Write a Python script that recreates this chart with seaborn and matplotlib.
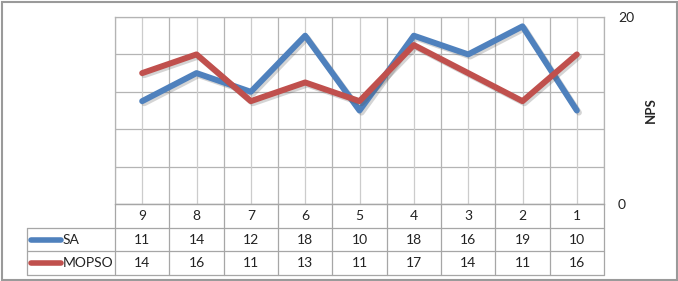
import numpy as np
import pandas as pd
import matplotlib
matplotlib.use("Agg")
import matplotlib.pyplot as plt
import matplotlib.patheffects as pe
import seaborn as sns

# data
categories = ["9", "8", "7", "6", "5", "4", "3", "2", "1"]
sa = [11, 14, 12, 18, 10, 18, 16, 19, 10]
mopso = [14, 16, 11, 13, 11, 17, 14, 11, 16]
series_names = ["SA", "MOPSO"]
colors = {"SA": "#4F81BD", "MOPSO": "#C0504D"}

sns.set_style("white")
plt.rcParams["font.family"] = ["Lato", "DejaVu Sans"]

W, H = 678, 281
fig = plt.figure(figsize=(W / 100, H / 100), dpi=100)

# plot area in pixels
left, right, top, bottom = 115, 604, 17, 204
ax = fig.add_axes([left / W, 1 - bottom / H, (right - left) / W, (bottom - top) / H])

df = pd.DataFrame({
    "cat": categories * 2,
    "val": sa + mopso,
    "series": ["SA"] * len(sa) + ["MOPSO"] * len(mopso),
})
sns.lineplot(data=df, x="cat", y="val", hue="series", palette=colors,
             linewidth=4.3, legend=False, ax=ax, sort=False)
for line in ax.get_lines():
    line.set_solid_capstyle("round")
    line.set_path_effects([pe.SimpleLineShadow(offset=(1.5, -1.5), alpha=0.25, shadow_color="#555555"),
                           pe.Normal()])

ax.set_xlim(-0.5, len(categories) - 0.5)
ax.set_ylim(0, 20)
ax.set_yticks(np.arange(0, 21, 4))
ax.set_yticklabels(["0", "", "", "", "", "20"])
ax.yaxis.tick_right()
ax.tick_params(axis="y", length=0, pad=10, labelsize=10, labelcolor="#222222")
ax.set_xticks([])
ax.set_xlabel("")
ax.set_ylabel("NPS", fontsize=9.5, fontweight="bold", labelpad=8)
ax.yaxis.set_label_position("right")

grid_col = "#b4b4b4"
for y in np.arange(0, 21, 4):
    ax.axhline(y, color=grid_col, lw=0.9, zorder=0)
for i in range(len(categories) + 1):
    ax.axvline(i - 0.5, color=grid_col, lw=0.9, zorder=0)
for i in range(len(categories)):
    ax.axvline(i, color="#cccccc", lw=0.9, zorder=0)
for s in ax.spines.values():
    s.set_color(grid_col)
    s.set_linewidth(0.9)

# data table under the plot
t_bottom = 275
tax = fig.add_axes([left / W, 1 - t_bottom / H, (right - left) / W, (t_bottom - bottom) / H])
tax.set_xlim(-0.5, len(categories) - 0.5)
tax.set_ylim(3, 0)
tax.axis("off")
col_w = (right - left) / len(categories)


def px2x(px):
    return -0.5 + (px - left) / col_w


line_col = "#a6a6a6"
x0 = px2x(27)
xr = len(categories) - 0.5
for y, xs in [(0, -0.5), (1, x0), (2, x0), (3, x0)]:
    tax.plot([xs, xr], [y, y], color=line_col, lw=0.9, clip_on=False)
for i in range(len(categories) + 1):
    tax.plot([i - 0.5, i - 0.5], [0, 3], color=line_col, lw=0.9, clip_on=False)
tax.plot([x0, x0], [1, 3], color=line_col, lw=0.9, clip_on=False)

for i, c in enumerate(categories):
    tax.text(i, 0.5, c, ha="center", va="center", fontsize=10, color="#222222")
for r, (name, vals) in enumerate(zip(series_names, [sa, mopso]), start=1):
    for i, v in enumerate(vals):
        tax.text(i, r + 0.5, str(v), ha="center", va="center", fontsize=10, color="#222222")
    tax.plot([px2x(31), px2x(61)], [r + 0.5, r + 0.5], color=colors[name], lw=4,
             solid_capstyle="round", clip_on=False)
    tax.text(px2x(63), r + 0.5, name, ha="left", va="center", fontsize=10, color="#222222")

# outer chart frame
fig.patches.append(plt.Rectangle((1.5 / W, 1.5 / H), (W - 3) / W, (H - 3) / H,
                                 transform=fig.transFigure, fill=False,
                                 edgecolor="#9a9a9a", lw=1.5))

fig.savefig("out.png", dpi=100)
